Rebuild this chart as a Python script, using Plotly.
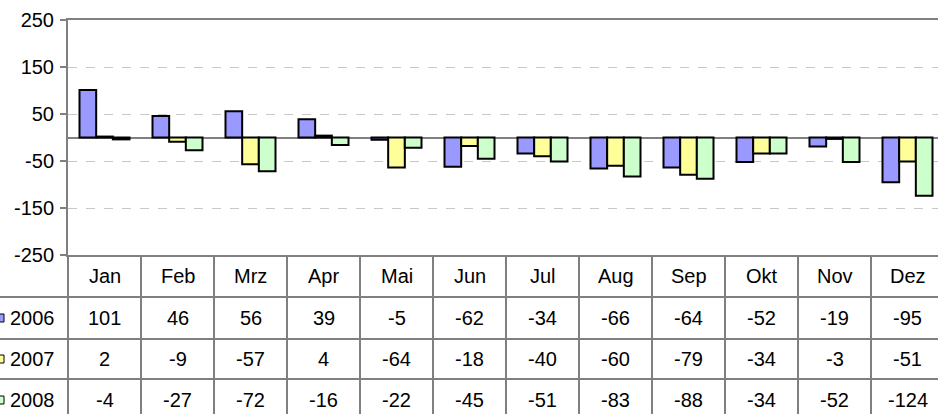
import plotly.graph_objects as go

months = ["Jan", "Feb", "Mrz", "Apr", "Mai", "Jun", "Jul", "Aug", "Sep", "Okt", "Nov", "Dez"]
years = ["2006", "2007", "2008"]
v2006 = [101, 46, 56, 39, -5, -62, -34, -66, -64, -52, -19, -95]
v2007 = [2, -9, -57, 4, -64, -18, -40, -60, -79, -34, -3, -51]
v2008 = [-4, -27, -72, -16, -22, -45, -51, -83, -88, -34, -52, -124]
colors = ["#9999FF", "#FFFF99", "#CCFFCC"]
yticks = [250, 150, 50, -50, -150, -250]

series = [v2006, v2007, v2008]

W, H = 938, 414
ML, MT, MB = 68, 20, 159
PW = W - ML
PH = H - MT - MB
FONT = "Liberation Sans, Arial, sans-serif"
FS = 20
LINE = "#808080"


def py(pix):
    return (H - MB - pix) / PH


def px(pix):
    return (pix - ML) / PW


fig = go.Figure()
for name, vals, col in zip(years, series, colors):
    fig.add_bar(x=list(range(len(months))), y=vals, name=name,
                marker=dict(color=col, line=dict(color="black", width=2)))

# table rows (pixel boundaries)
row_edges = [255, 297, 339, 379, 421]
shapes = []
for e in row_edges[1:4]:
    shapes.append(dict(type="line", xref="paper", yref="paper", x0=px(0), x1=1.0,
                       y0=py(e), y1=py(e), line=dict(color=LINE, width=2)))
# left border of the table
shapes.append(dict(type="line", xref="paper", yref="paper", x0=0, x1=0,
                   y0=0, y1=py(H + 5), line=dict(color=LINE, width=2)))
# column separators
for i in range(1, len(months) + 1):
    shapes.append(dict(type="line", xref="x", yref="paper", x0=i - 0.5, x1=i - 0.5,
                       y0=0, y1=py(H + 5), line=dict(color=LINE, width=2)))

annotations = []
# header
hc = (row_edges[0] + row_edges[1]) / 2
for i, m in enumerate(months):
    annotations.append(dict(x=i, y=py(hc), xref="x", yref="paper", text=m, showarrow=False,
                            font=dict(size=FS, color="black", family=FONT),
                            xanchor="center", yanchor="middle"))
# values + year labels + legend keys
for r, (name, vals, col) in enumerate(zip(years, series, colors)):
    c = (row_edges[r + 1] + row_edges[r + 2]) / 2
    for i, v in enumerate(vals):
        annotations.append(dict(x=i, y=py(c), xref="x", yref="paper", text=str(v), showarrow=False,
                                font=dict(size=FS, color="black", family=FONT),
                                xanchor="center", yanchor="middle"))
    annotations.append(dict(x=px(8), y=py(c), xref="paper", yref="paper", text=name, showarrow=False,
                            font=dict(size=FS, color="black", family=FONT),
                            xanchor="left", yanchor="middle"))
    shapes.append(dict(type="rect", xref="paper", yref="paper", x0=px(-3), x1=px(4),
                       y0=py(c + 4), y1=py(c - 4), fillcolor=col,
                       line=dict(color="black", width=1)))

fig.update_layout(
    width=W, height=H,
    margin=dict(l=ML, r=0, t=MT, b=MB, pad=0, autoexpand=False),
    paper_bgcolor="white", plot_bgcolor="white",
    barmode="group", bargap=0.315, bargroupgap=0,
    showlegend=False,
    font=dict(family=FONT, size=FS, color="black"),
    shapes=shapes, annotations=annotations,
    xaxis=dict(type="linear", range=[-0.5, -0.5 + PW / 73.0], showticklabels=False, ticks="",
               showgrid=False, zeroline=False, showline=True, mirror=True,
               linecolor=LINE, linewidth=2, automargin=False),
    yaxis=dict(range=[-250, 250], tickvals=yticks, ticktext=[str(t) for t in yticks],
               showgrid=True, gridcolor="#C8C8C8", griddash="dash", gridwidth=1,
               zeroline=True, zerolinecolor=LINE, zerolinewidth=2,
               showline=True, linecolor=LINE, linewidth=2,
               ticks="outside", ticklen=6, tickwidth=2, tickcolor=LINE,
               ticklabelstandoff=2, automargin=False,
               tickfont=dict(size=FS, color="black", family=FONT)),
)

fig.write_html("out.html", config={"displayModeBar": False},
               post_script="document.body.style.margin='0';document.body.style.overflow='hidden';")
